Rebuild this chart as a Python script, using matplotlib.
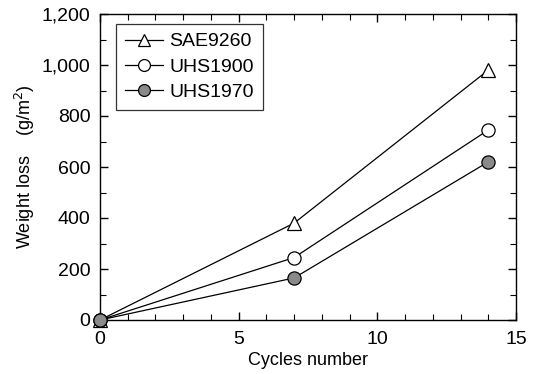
import matplotlib
matplotlib.use('Agg')
import matplotlib.pyplot as plt
from matplotlib.ticker import MultipleLocator, FuncFormatter

plt.rcParams['font.family'] = ['Liberation Sans', 'DejaVu Sans']

cycles = [0, 7, 14]
sae9260 = [0, 380, 980]
uhs1900 = [0, 245, 745]
uhs1970 = [0, 165, 620]

fig = plt.figure(figsize=(5.36, 3.74), dpi=100)
ax = fig.add_axes([100/536, 1 - 320/374, 416/536, 306/374])

ax.plot(cycles, sae9260, '-^', color='black', lw=0.9, ms=10, mfc='white', mec='black', mew=0.9, label='SAE9260', clip_on=False, zorder=3)
ax.plot(cycles, uhs1900, '-o', color='black', lw=0.9, ms=9.5, mfc='white', mec='black', mew=0.9, label='UHS1900', clip_on=False, zorder=3)
ax.plot(cycles, uhs1970, '-o', color='black', lw=0.9, ms=9.5, mfc='#8a8a8a', mec='black', mew=0.9, label='UHS1970', clip_on=False, zorder=3)

ax.set_xlim(0, 15)
ax.set_ylim(0, 1200)
ax.xaxis.set_major_locator(MultipleLocator(5))
ax.xaxis.set_minor_locator(MultipleLocator(1))
ax.yaxis.set_major_locator(MultipleLocator(200))
ax.yaxis.set_minor_locator(MultipleLocator(100))
ax.yaxis.set_major_formatter(FuncFormatter(lambda v, p: f'{int(v):,}'))
ax.tick_params(which='both', direction='in', top=True, right=True, labelsize=14)
ax.tick_params(which='major', length=6, width=1)
ax.tick_params(which='minor', length=4, width=0.8)
ax.tick_params(axis='x', pad=8)
ax.tick_params(axis='y', pad=7)
for s in ax.spines.values():
    s.set_linewidth(1)

ax.set_xlabel('Cycles number', fontsize=13, labelpad=3)
ax.set_ylabel('Weight loss    (g/m$^2$)', fontsize=13, labelpad=3)

leg = ax.legend(loc='upper left', bbox_to_anchor=(0.038, 0.967), borderaxespad=0, fontsize=14,
                frameon=True, fancybox=False, edgecolor='black', handlelength=2.0, borderpad=0.45,
                labelspacing=0.4, handletextpad=0.3, markerscale=0.9)
leg.get_frame().set_linewidth(0.9)

fig.savefig('out.png', dpi=100)
